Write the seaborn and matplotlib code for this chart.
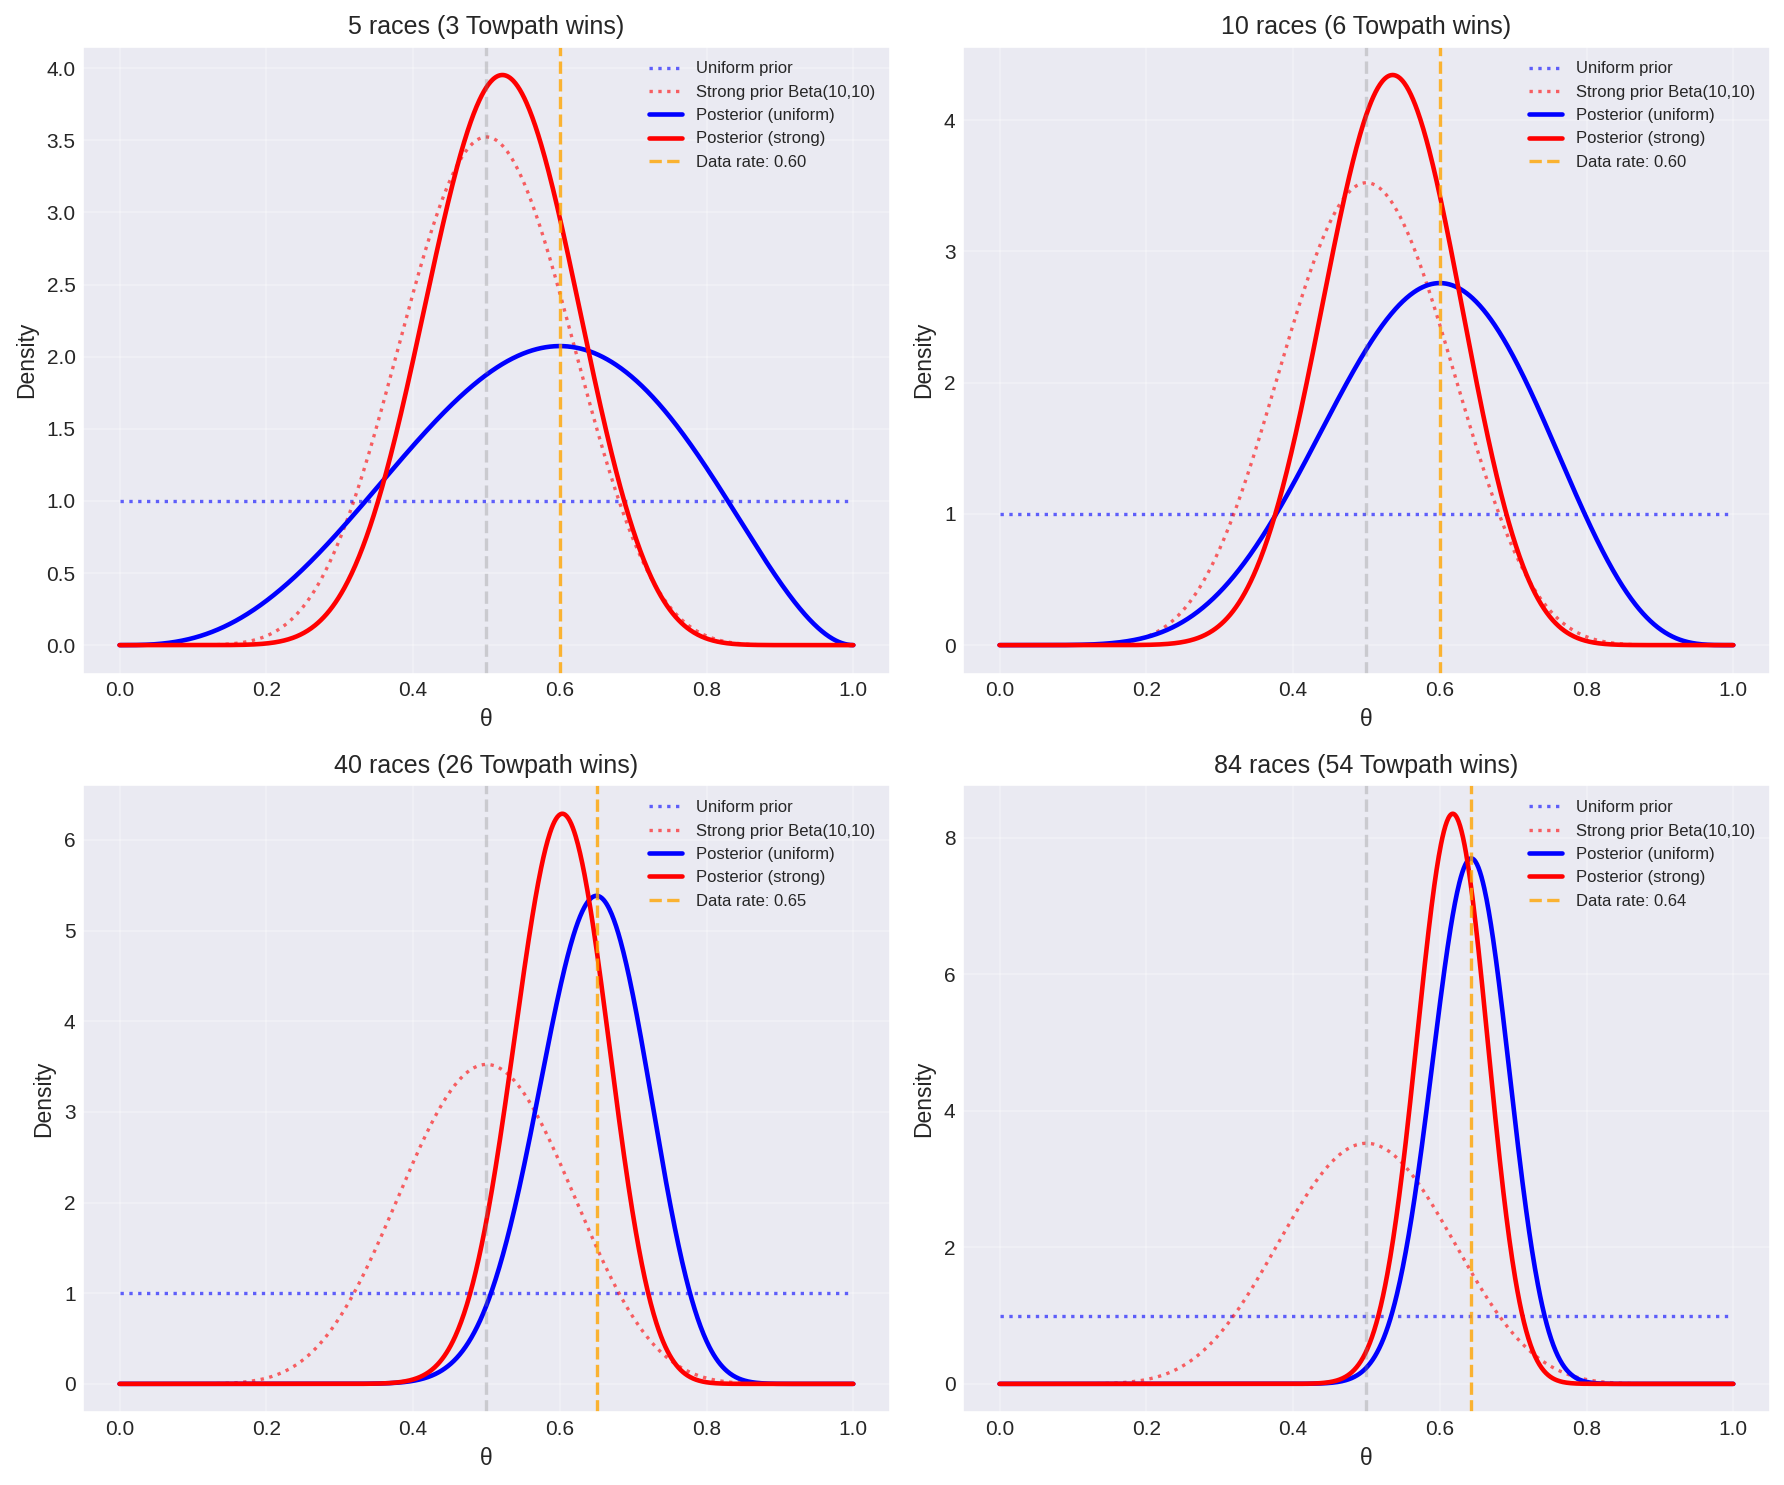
import math
import numpy as np
import seaborn as sns
import matplotlib
matplotlib.use("Agg")
import matplotlib.pyplot as plt

# races observed and Towpath wins in each panel
races = [5, 10, 40, 84]
wins = [3, 6, 26, 54]
# prior parameters
uniform_prior = (1, 1)
strong_prior = (10, 10)


def beta_pdf(x, a, b):
    logc = math.lgamma(a + b) - math.lgamma(a) - math.lgamma(b)
    with np.errstate(divide="ignore", invalid="ignore"):
        la = (a - 1) * np.log(x) if a != 1 else 0.0
        lb = (b - 1) * np.log1p(-x) if b != 1 else 0.0
        y = np.exp(logc + la + lb)
    return np.nan_to_num(y) * np.ones_like(x)


sns.set_style("darkgrid")
plt.rcParams['font.family'] = ['Liberation Sans', 'DejaVu Sans']

theta = np.linspace(0, 1, 1000)
fig, axes = plt.subplots(2, 2, figsize=(12, 10), dpi=150)

for ax, n, w in zip(axes.flat, races, wins):
    ua, ub = uniform_prior
    sa, sb = strong_prior
    sns.lineplot(x=theta, y=beta_pdf(theta, ua, ub), ax=ax, color='blue', linestyle=':',
                 alpha=0.6, linewidth=1.6, label='Uniform prior')
    sns.lineplot(x=theta, y=beta_pdf(theta, sa, sb), ax=ax, color='red', linestyle=':',
                 alpha=0.6, linewidth=1.6, label='Strong prior Beta(10,10)')
    sns.lineplot(x=theta, y=beta_pdf(theta, ua + w, ub + n - w), ax=ax, color='blue',
                 linewidth=2.2, label='Posterior (uniform)')
    sns.lineplot(x=theta, y=beta_pdf(theta, sa + w, sb + n - w), ax=ax, color='red',
                 linewidth=2.2, label='Posterior (strong)')
    ax.axvline(w / n, color='orange', linestyle='--', alpha=0.8, linewidth=1.6,
               label=f'Data rate: {w / n:.2f}')
    ax.axvline(0.5, color='gray', linestyle='--', alpha=0.3, linewidth=1.6)
    ax.set_title(f'{n} races ({w} Towpath wins)', fontsize=12)
    ax.set_xlabel('θ', fontsize=11)
    ax.set_ylabel('Density', fontsize=11)
    ax.tick_params(labelsize=10, length=0, pad=3.5)
    ax.legend(fontsize=8, frameon=False, loc='upper right')
    ax.grid(True, alpha=0.3)

plt.tight_layout()
plt.savefig('out.png', dpi=150, bbox_inches='tight')
plt.close()
